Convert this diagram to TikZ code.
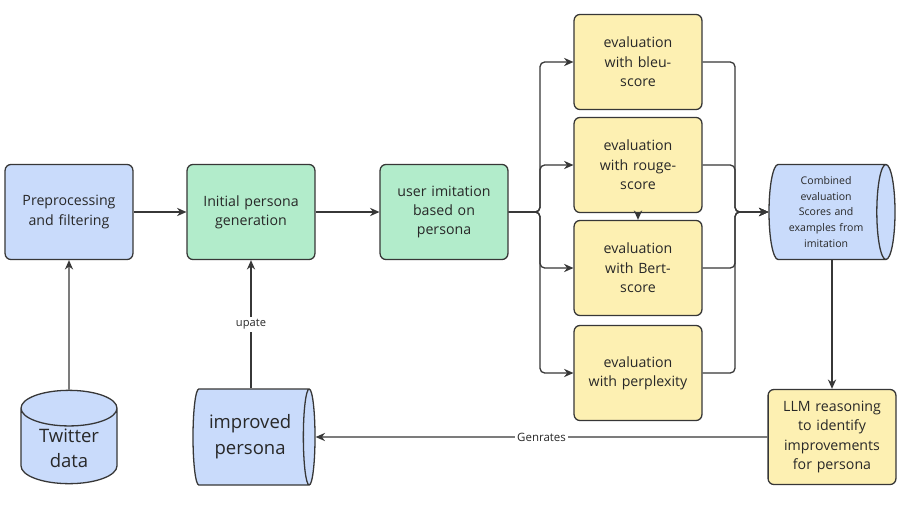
\documentclass[tikz,border=0pt]{standalone}
\usepackage{fontspec}
\setmainfont{Open Sans}
\usetikzlibrary{shapes.geometric,arrows.meta}

\begin{document}
\begin{tikzpicture}[x=0.03cm, y=-0.03cm,
    box/.style={draw=linecolor, line width=1.1pt, rounded corners=5pt, minimum width=3.81cm, minimum height=2.85cm, text width=3.6cm, align=center, text=textcolor, font=\fontsize{12.1}{16.5}\selectfont},
    store/.style={draw=linecolor, line width=1.1pt, cylinder, fill=bluefill, text=textcolor, align=center, inner sep=1pt, anchor=shape center},
    arr/.style={draw=linecolor, line width=1.1pt, -{Stealth[length=8pt, width=7pt]}},
    tag/.style={fill=white, text=textcolor, inner sep=2pt}]
  % Define colors
  \definecolor{bluefill}{RGB}{201,219,251}
  \definecolor{greenfill}{RGB}{178,236,203}
  \definecolor{yellowfill}{RGB}{253,240,178}
  \definecolor{linecolor}{RGB}{55,55,55}
  \definecolor{textcolor}{RGB}{40,40,40}

  \useasboundingbox[fill=white] (0,0) rectangle (908,506);

  % Left column: data and preprocessing
  \node[box, fill=bluefill] (prep) at (69,212) {Preprocessing\\and filtering};
  \node[store, shape border rotate=90, aspect=0.4, minimum width=2.88cm, minimum height=2.8cm, text width=2.6cm, font=\fontsize{15.8}{21}\selectfont] (twitter) at (69,437) {Twitter\\data};

  % Persona generation
  \node[box, fill=greenfill] (init) at (251,212) {Initial persona\\generation};
  \node[store, aspect=0.25, minimum width=2.88cm, minimum height=3.66cm, text width=2.6cm, font=\fontsize{15.8}{22}\selectfont] (improved) at (254,437) {improved\\persona};

  % Imitation
  \node[box, fill=greenfill] (imit) at (444,212) {user imitation\\based on\\persona};

  % Evaluation boxes
  \node[box, fill=yellowfill] (bleu) at (638,62) {evaluation\\with bleu-\\score};
  \node[box, fill=yellowfill] (rouge) at (638,165) {evaluation\\with rouge-\\score};
  \node[box, fill=yellowfill] (bert) at (638,268) {evaluation\\with Bert-\\score};
  \node[box, fill=yellowfill] (perp) at (638,373) {evaluation\\with perplexity};

  % Combined results and reasoning
  \node[store, aspect=0.25, minimum width=2.85cm, minimum height=3.78cm, text width=2.6cm, font=\fontsize{9}{13.3}\selectfont] (comb) at (832,212) {Combined\\evaluation\\Scores and\\examples from\\imitation};
  \node[box, fill=yellowfill] (llm) at (832,437) {LLM reasoning\\to identify\\improvements\\for persona};

  % Branch points
  \coordinate (split) at (540,212);
  \coordinate (join) at (735,212);

  % Connectors
  \draw[arr] (twitter.north) -- (prep.south);
  \draw[arr] (prep.east) -- (init.west);
  \draw[arr] (init.south |- improved.north) -- node[tag, font=\fontsize{9.5}{11}\selectfont] {upate} (init.south);
  \draw[arr] (init.east) -- (imit.west);
  \foreach \ev in {bleu,rouge,bert,perp} {
    \draw[arr, rounded corners=4pt] (imit.east) -- (split) |- (\ev.west);
    \draw[arr, rounded corners=4pt] (\ev.east) -| (join) -- (comb.west);
  }
  \draw[arr] (rouge.south) -- (bert.north);
  \draw[arr] (llm.north |- comb.south) -- (llm.north);
  \draw[arr] (llm.west) -- node[tag, font=\fontsize{9.8}{11}\selectfont] {Genrates} (improved.east);
\end{tikzpicture}
\end{document}
